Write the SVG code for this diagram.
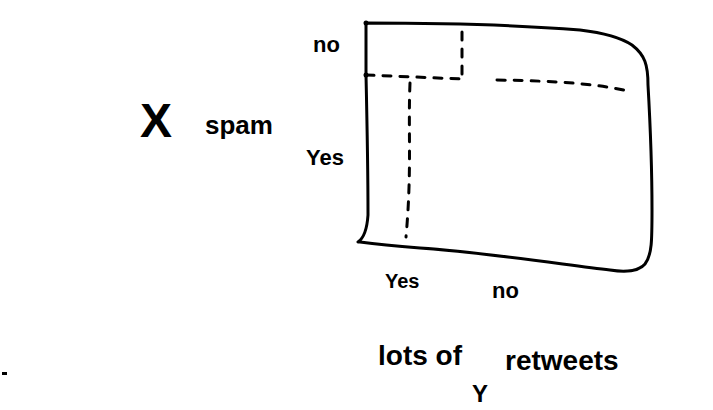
<svg xmlns="http://www.w3.org/2000/svg" width="713" height="410" viewBox="0 0 713 410">
<style>
.ink{fill:none;stroke:#000;stroke-width:3;stroke-linecap:round;stroke-linejoin:round}
.dash{fill:none;stroke:#000;stroke-width:3;stroke-linecap:round;stroke-dasharray:8 9}
.t{font-family:"Liberation Sans",Arial,sans-serif;font-weight:bold;fill:#000}
</style>
<rect width="713" height="410" fill="#fff"/>
<g id="box">
<path class="ink" d="M366,23 C430,23 520,25 580,30 C605,33 620,37 632,45 C645,55 648,65 648,85 C650,120 652,170 652,210 C652,240 652,255 645,264 C640,270 628,273 610,270 C560,264 480,252 420,248 C395,246 375,244 360,242 M366,23 L366,75 C367,120 368,180 368,215 C367,230 364,238 358,242"/>
<circle cx="366" cy="23" r="2.5"/>
<circle cx="366" cy="75" r="2.5"/>
</g>
<g id="dividers">
<path class="dash" d="M366,75 L462,79 M497,80 C560,81 600,84 632,92"/>
<path class="dash" d="M462,32 L462,79"/>
<path class="dash" d="M410,83 C408,130 412,170 406,237"/>
</g>
<g id="labels">
<text class="t" x="313" y="52" font-size="22">no</text>
<text class="t" x="140" y="137" font-size="48" font-weight="normal">X</text>
<text class="t" x="205" y="134" font-size="26">spam</text>
<text class="t" x="306" y="165" font-size="22">Yes</text>
<text class="t" x="385" y="288" font-size="20">Yes</text>
<text class="t" x="492" y="298" font-size="22">no</text>
<text class="t" x="378" y="365" font-size="28">lots of</text>
<text class="t" x="505" y="370" font-size="28">retweets</text>
<text class="t" x="472" y="402" font-size="24">Y</text>
<rect x="2" y="372" width="5" height="3" fill="#000"/>
</g>
</svg>
